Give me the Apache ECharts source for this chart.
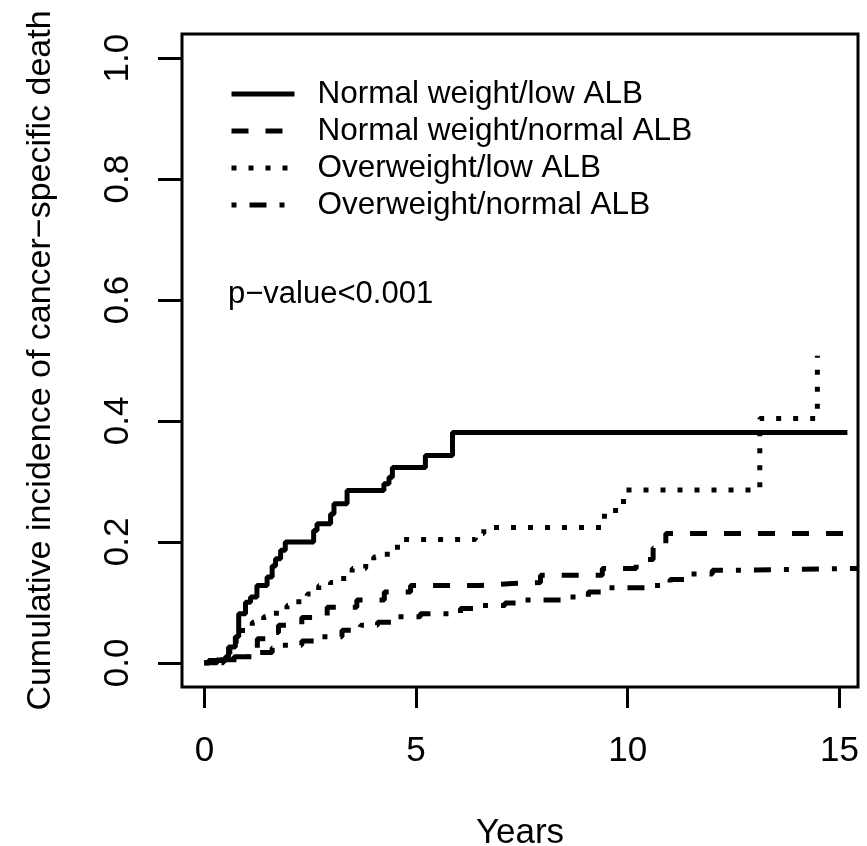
<!DOCTYPE html>
<html>
<head>
<meta charset="utf-8">
<script src="https://cdn.jsdelivr.net/npm/echarts@6/dist/echarts.min.js"></script>
<style>
html,body{margin:0;padding:0;background:#fff;}
#chart{width:867px;height:846px;}
</style>
</head>
<body>
<div id="chart"></div>
<script>
// ---- data ----
const seriesNames = ["Normal weight/low ALB", "Normal weight/normal ALB", "Overweight/low ALB", "Overweight/normal ALB"];

const nwLowT = [0, 0.1, 0.5, 0.57, 0.73, 0.81, 0.97, 1.09, 1.24, 1.48, 1.6, 1.68, 1.8, 1.91, 2.58, 2.66, 2.98, 3.06, 3.37, 4.24, 4.36, 4.44, 5.22, 5.86, 15.19];
const nwLowV = [0, 0.004, 0.01, 0.026, 0.043, 0.081, 0.1, 0.109, 0.128, 0.142, 0.16, 0.172, 0.186, 0.2, 0.219, 0.23, 0.246, 0.263, 0.285, 0.296, 0.307, 0.323, 0.343, 0.381, 0.381];

const nwNormT = [0, 0.3, 0.7, 1.0, 1.25, 1.6, 1.75, 2.3, 2.9, 3.6, 4.25, 4.87, 6.5, 7.27, 7.94, 9.4, 10.2, 10.6, 10.9, 15.37];
const nwNormV = [0, 0.005, 0.01, 0.015, 0.04, 0.05, 0.062, 0.075, 0.092, 0.104, 0.117, 0.128, 0.131, 0.133, 0.145, 0.156, 0.171, 0.19, 0.214, 0.214];

const owLowT = [0, 0.45, 0.6, 0.75, 0.9, 1.13, 1.4, 1.7, 1.95, 2.23, 2.43, 2.7, 2.98, 3.29, 3.49, 3.81, 4.0, 4.32, 4.56, 6.4, 6.6, 9.45, 9.9, 13.12, 14.48];
const owLowV = [0, 0.005, 0.025, 0.045, 0.058, 0.067, 0.076, 0.087, 0.095, 0.106, 0.114, 0.128, 0.133, 0.147, 0.156, 0.166, 0.175, 0.186, 0.204, 0.214, 0.224, 0.252, 0.286, 0.404, 0.508];

const owNormT = [0, 0.3, 0.8, 1.2, 1.6, 1.85, 2.3, 2.78, 3.25, 3.69, 4.09, 4.55, 5.1, 6.05, 6.55, 7.1, 7.56, 8.6, 9.07, 9.56, 10.58, 11.0, 11.47, 12.0, 12.47, 15.43];
const owNormV = [0, 0.005, 0.01, 0.017, 0.025, 0.029, 0.036, 0.043, 0.054, 0.062, 0.067, 0.076, 0.081, 0.09, 0.095, 0.099, 0.104, 0.109, 0.117, 0.124, 0.128, 0.138, 0.147, 0.153, 0.156, 0.156];

const xTicks = [0, 5, 10, 15];
const yTicks = [0, 0.2, 0.4, 0.6, 0.8, 1.0];
const xTitle = "Years";
const yTitle = "Cumulative incidence of cancer\u2212specific death";
const pText = "p\u2212value<0.001";

// ---- chart ----
const FONT = '"Liberation Sans", Arial, sans-serif';
const pair = (t, v) => t.map((x, i) => [x, v[i]]);
const dashes = ['solid', [17, 17], [5, 12], [5, 13, 17, 13]];
const allData = [pair(nwLowT, nwLowV), pair(nwNormT, nwNormV), pair(owLowT, owLowV), pair(owNormT, owNormV)];

const chart = echarts.init(document.getElementById('chart'), null, {renderer: 'canvas'});
chart.setOption({
  backgroundColor: '#fff',
  animation: false,
  textStyle: {fontFamily: FONT, color: '#000'},
  grid: {left: 182, right: 9, top: 34, bottom: 159, show: true, borderColor: '#000', borderWidth: 3,
    backgroundColor: 'transparent', containLabel: false, outerBoundsMode: 'none'},
  title: {text: pText, left: 228, top: 279, padding: 0,
    textStyle: {fontFamily: FONT, fontSize: 31, fontWeight: 'normal', color: '#000'}},
  legend: {
    orient: 'vertical', left: 229, top: 78, padding: 0, itemWidth: 63, itemHeight: 14, itemGap: 5,
    data: seriesNames,
    itemStyle: {color: 'transparent', borderColor: 'transparent', borderWidth: 0, opacity: 0},
    lineStyle: {width: 5},
    textStyle: {fontFamily: FONT, fontSize: 31.5, color: '#000', lineHeight: 31, padding: [0, 0, 0, 18]}
  },
  xAxis: {
    type: 'value', min: -0.53, max: 15.44,
    name: xTitle, nameLocation: 'middle', nameGap: 129, nameMoveOverlap: false,
    nameTextStyle: {fontFamily: FONT, fontSize: 35, color: '#000'},
    axisLine: {show: false, onZero: false},
    splitLine: {show: false},
    axisTick: {show: true, inside: false, length: 21, customValues: xTicks, lineStyle: {color: '#000', width: 3}},
    axisLabel: {customValues: xTicks, fontSize: 35, color: '#000', fontFamily: FONT, margin: 47}
  },
  yAxis: {
    type: 'value', min: -0.04, max: 1.04,
    name: yTitle, nameLocation: 'middle', nameGap: 124, nameRotate: 90, nameMoveOverlap: false,
    nameTextStyle: {fontFamily: FONT, fontSize: 34, color: '#000'},
    axisLine: {show: false, onZero: false},
    splitLine: {show: false},
    axisTick: {show: true, inside: false, length: 24, customValues: yTicks, lineStyle: {color: '#000', width: 3}},
    axisLabel: {customValues: yTicks, fontSize: 35, color: '#000', fontFamily: FONT, rotate: 90, margin: 46,
      formatter: v => v.toFixed(1)}
  },
  series: seriesNames.map((n, i) => ({
    name: n, type: 'line', step: 'end', symbol: 'none', showSymbol: false,
    data: allData[i],
    lineStyle: {color: '#000', width: 5, type: dashes[i], cap: 'butt'},
    itemStyle: {color: '#000'}
  }))
});
</script>
</body>
</html>
